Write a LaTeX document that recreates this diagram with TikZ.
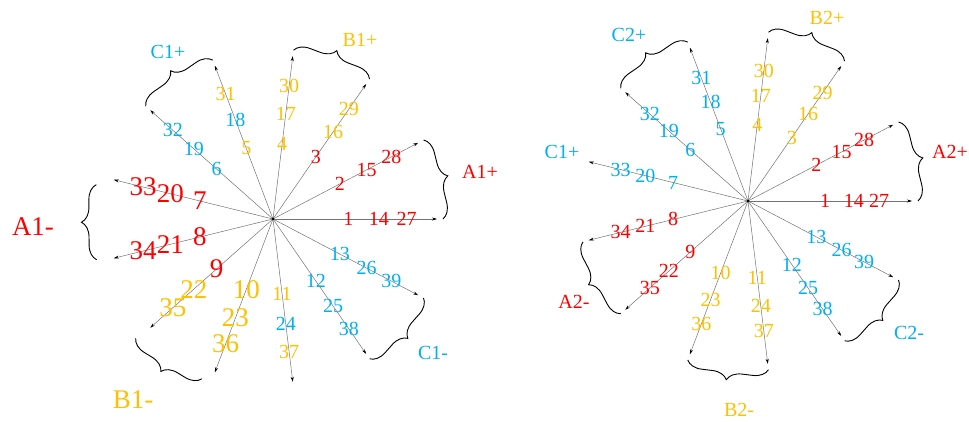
\documentclass[tikz,border=0pt]{standalone}
\usepackage{fontspec}
\setmainfont{Liberation Serif}
\usetikzlibrary{arrows.meta,calc,decorations.pathreplacing}
\definecolor{phA}{HTML}{FF0000}
\definecolor{phB}{HTML}{FFC000}
\definecolor{phC}{HTML}{00B0F0}

\begin{document}
\begin{tikzpicture}[x=1pt,y=1pt,>={Stealth[length=5pt,width=3pt,color=black]},
  ray/.style={->,draw=black!55,line width=.5pt},
  num/.style={font=\fontsize{20}{20}\selectfont,inner sep=0pt},
  bignum/.style={font=\fontsize{27}{27}\selectfont,inner sep=0pt},
  brc/.style={draw=black,line width=.9pt,decorate,
    decoration={brace,amplitude=15pt}}]
  \useasboundingbox (0,0) rectangle (969,422);

  % left star
  \coordinate (L0) at (273,203);
  \foreach \k/\ca/\cb/\cc/\fs in {1/phA/phA/phA/num,2/phA/phA/phA/num,
      3/phA/phB/phB/num,4/phB/phB/phB/num,5/phB/phC/phB/num,
      6/phC/phC/phC/num,7/phA/phA/phA/bignum,8/phA/phA/phA/bignum,
      9/phA/phB/phB/bignum,10/phB/phB/phB/bignum,11/phB/phC/phB/num,
      12/phC/phC/phC/num,13/phC/phC/phC/num} {
    \pgfmathtruncatemacro\m{\k+13}
    \pgfmathtruncatemacro\n{\k+26}
    \coordinate (L\k) at ($(L0)+({(\k-1)*360/13}:164)$);
    \coordinate (Le\k) at ($(L0)+({(\k-1)*360/13}:170)$);
    \draw[ray] (L0) -- (L\k)
      node[\fs,text=\ca,pos=.46] (La\k) {\k}
      node[\fs,text=\cb,pos=.645] (Lb\k) {\m}
      node[\fs,text=\cc,pos=.815] (Lc\k) {\n};
  }
  \fill (L0) circle (1.5);
  \coordinate (Lx7) at ($(L0)+(169:180)$);
  \coordinate (Lx8) at ($(L0)+(193:181)$);
  \coordinate (Lx9) at ($(L0)+(221:182)$);
  \coordinate (Lx10) at ($(L0)+(246:175)$);
  \draw[brc] (Le2) -- (Le1);
  \draw[brc] (Le4) -- (Le3);
  \draw[brc] (Le6) -- (Le5);
  \draw[brc] (Lx8) -- (Lx7);
  \draw[brc] (Lx10) -- (Lx9);
  \draw[brc] (Le13) -- (Le12);
  \node[num,text=phA] (lA1p) at (480,250) {A1+};
  \node[num,text=phB] (lB1p) at (360,382) {B1+};
  \node[num,text=phC] (lC1p) at (168,370) {C1+};
  \node[bignum,text=phA] (lA1m) at (33,195) {A1-};
  \node[bignum,text=phB] (lB1m) at (133,22) {B1-};
  \node[num,text=phC] (lC1m) at (433,69) {C1-};

  % right star
  \coordinate (R0) at (748,221);
  \foreach \k/\c in {1/phA,2/phA,3/phB,4/phB,5/phC,6/phC,7/phC,
      8/phA,9/phA,10/phB,11/phB,12/phC,13/phC} {
    \pgfmathtruncatemacro\m{\k+13}
    \pgfmathtruncatemacro\n{\k+26}
    \coordinate (R\k) at ($(R0)+({(\k-1)*360/13}:164)$);
    \coordinate (Re\k) at ($(R0)+({(\k-1)*360/13}:170)$);
    \draw[ray] (R0) -- (R\k)
      node[num,text=\c,pos=.47] (Ra\k) {\k}
      node[num,text=\c,pos=.645] (Rb\k) {\m}
      node[num,text=\c,pos=.80] (Rc\k) {\n};
  }
  \fill (R0) circle (1.5);
  \draw[brc] (Re2) -- (Re1);
  \draw[brc] (Re4) -- (Re3);
  \draw[brc] (Re6) -- (Re5);
  \draw[brc] (Re9) -- (Re8);
  \draw[brc] (Re11) -- (Re10);
  \draw[brc] (Re13) -- (Re12);
  \node[num,text=phA] (lA2p) at (950,270) {A2+};
  \node[num,text=phB] (lB2p) at (827,404) {B2+};
  \node[num,text=phC] (lC2p) at (629,387) {C2+};
  \node[num,text=phC] (lC1pR) at (562,270) {C1+};
  \node[num,text=phA] (lA2m) at (574,120) {A2-};
  \node[num,text=phB] (lB2m) at (739,12) {B2-};
  \node[num,text=phC] (lC2m) at (909,89) {C2-};
\end{tikzpicture}
\end{document}
